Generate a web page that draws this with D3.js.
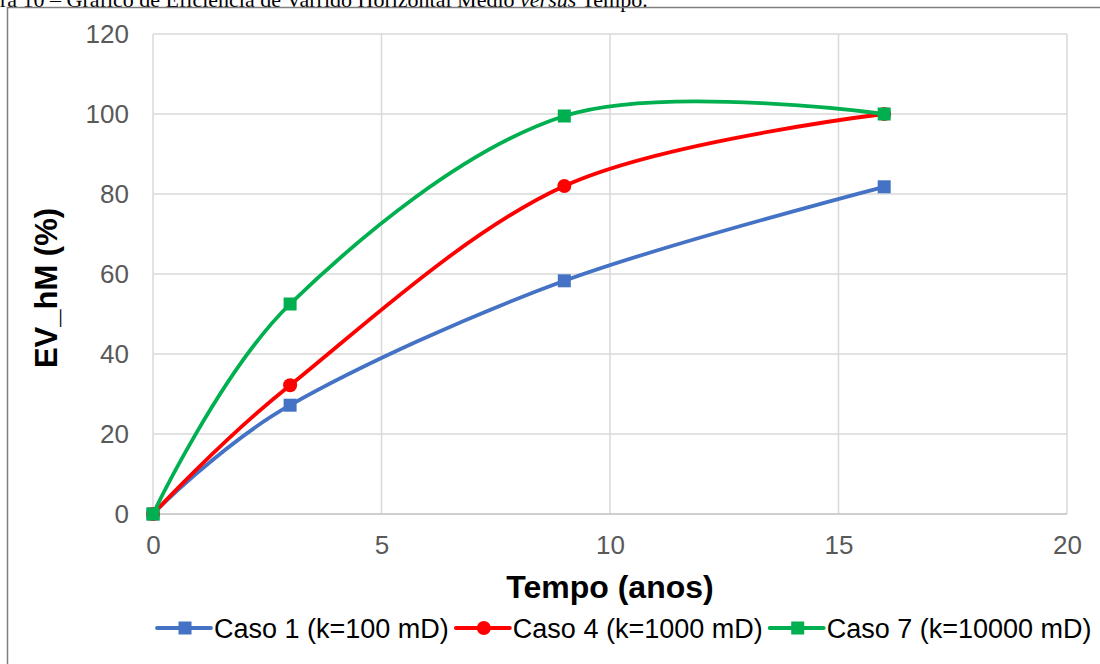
<!DOCTYPE html>
<html>
<head>
<meta charset="utf-8">
<script src="https://cdn.jsdelivr.net/npm/d3@7"></script>
<style>
  body { margin: 0; background: #fff; }
  svg { display: block; font-family: "Liberation Sans", Arial, sans-serif; }
</style>
</head>
<body>
<script>
// data
const years = [0, 3, 9, 16];
const caso1 = [0, 27.2, 58.3, 81.8];
const caso4 = [0, 32.2, 82.0, 100];
const caso7 = [0, 52.5, 99.5, 100];
const seriesNames = ["Caso 1 (k=100 mD)", "Caso 4 (k=1000 mD)", "Caso 7 (k=10000 mD)"];
const seriesColors = ["#4472C4", "#FF0000", "#00B050"];
const seriesMarkers = ["square", "circle", "square"];
const xTicks = [0, 5, 10, 15, 20];
const yTicks = [0, 20, 40, 60, 80, 100, 120];

const W = 1100, H = 664;
const svg = d3.select("body").append("svg").attr("width", W).attr("height", H);

// caption cut by the page top
const cap = svg.append("text")
  .attr("y", 7)
  .attr("font-family", "'Liberation Serif', 'Times New Roman', serif")
  .attr("font-size", 22)
  .attr("fill", "#000");
cap.append("tspan").text("Figura 10 – Gráfico de Eficiência de Varrido Horizontal Médio ");
cap.append("tspan").attr("font-style", "italic").text("versus");
cap.append("tspan").text(" Tempo.");
const pre = svg.append("text").attr("font-family", "'Liberation Serif', serif")
  .attr("font-size", 22).text("Figu");
const preW = pre.node().getComputedTextLength();
pre.remove();
cap.attr("x", -preW);

// outer frame
svg.append("rect")
  .attr("x", 7.5).attr("y", 7.5)
  .attr("width", W + 20).attr("height", H + 20)
  .attr("fill", "none").attr("stroke", "#7f7f7f").attr("stroke-width", 1.5);

const x = d3.scaleLinear().domain([0, 20]).range([153, 1067]);
const y = d3.scaleLinear().domain([0, 120]).range([514, 34]);

// grid
svg.append("g").selectAll("line").data(yTicks.filter(d => d > 0)).join("line")
  .attr("x1", x(0)).attr("x2", x(20))
  .attr("y1", d => y(d)).attr("y2", d => y(d))
  .attr("stroke", "#d9d9d9").attr("stroke-width", 1.5);
svg.append("g").selectAll("line").data(xTicks).join("line")
  .attr("x1", d => x(d)).attr("x2", d => x(d))
  .attr("y1", y(0)).attr("y2", y(120))
  .attr("stroke", "#d9d9d9").attr("stroke-width", 1.5);
svg.append("line")
  .attr("x1", x(0)).attr("x2", x(20)).attr("y1", y(0)).attr("y2", y(0))
  .attr("stroke", "#bfbfbf").attr("stroke-width", 1.5);

// axes labels
const yAxis = d3.axisLeft(y).tickValues(yTicks).tickSize(0).tickPadding(24);
const gy = svg.append("g").attr("transform", `translate(${x(0)},0)`).call(yAxis);
const xAxis = d3.axisBottom(x).tickValues(xTicks).tickSize(0).tickPadding(22);
const gx = svg.append("g").attr("transform", `translate(0,${y(0)})`).call(xAxis);
[gx, gy].forEach(g => {
  g.select(".domain").remove();
  g.selectAll("text")
    .attr("font-family", "'Liberation Sans', Arial, sans-serif")
    .attr("font-size", 26).attr("fill", "#595959");
});

svg.append("text")
  .attr("x", 610).attr("y", 598)
  .attr("text-anchor", "middle")
  .attr("font-size", 32).attr("font-weight", "bold")
  .text("Tempo (anos)");
svg.append("text")
  .attr("transform", "translate(57,288) rotate(-90)")
  .attr("text-anchor", "middle")
  .attr("font-size", 31).attr("font-weight", "bold")
  .text("EV_hM (%)");

// series
const allSeries = [caso1, caso4, caso7];
const line = d3.line()
  .x(d => x(d[0])).y(d => y(d[1]))
  .curve(d3.curveCardinal.tension(0));

function marker(g, type, color, cx, cy) {
  if (type === "circle") {
    g.append("circle").attr("cx", cx).attr("cy", cy).attr("r", 7).attr("fill", color);
  } else {
    g.append("rect").attr("x", cx - 6.5).attr("y", cy - 6.5)
      .attr("width", 13).attr("height", 13).attr("fill", color);
  }
}

allSeries.forEach((vals, i) => {
  const pts = years.map((t, j) => [t, vals[j]]);
  const g = svg.append("g");
  g.append("path").attr("d", line(pts))
    .attr("fill", "none").attr("stroke", seriesColors[i])
    .attr("stroke-width", 3.8).attr("stroke-linecap", "round");
  pts.forEach(p => marker(g, seriesMarkers[i], seriesColors[i], x(p[0]), y(p[1])));
});

// legend
const legend = svg.append("g");
let lx = 157;
const ly = 628;
seriesNames.forEach((name, i) => {
  const g = legend.append("g");
  g.append("line").attr("x1", lx).attr("x2", lx + 54).attr("y1", ly).attr("y2", ly)
    .attr("stroke", seriesColors[i]).attr("stroke-width", 3.8).attr("stroke-linecap", "round");
  marker(g, seriesMarkers[i], seriesColors[i], lx + 28, ly);
  const t = g.append("text").attr("x", lx + 57).attr("y", ly + 10)
    .attr("font-size", 27).attr("fill", "#000").text(name);
  lx += 57 + t.node().getComputedTextLength() + 7;
});
</script>
</body>
</html>
